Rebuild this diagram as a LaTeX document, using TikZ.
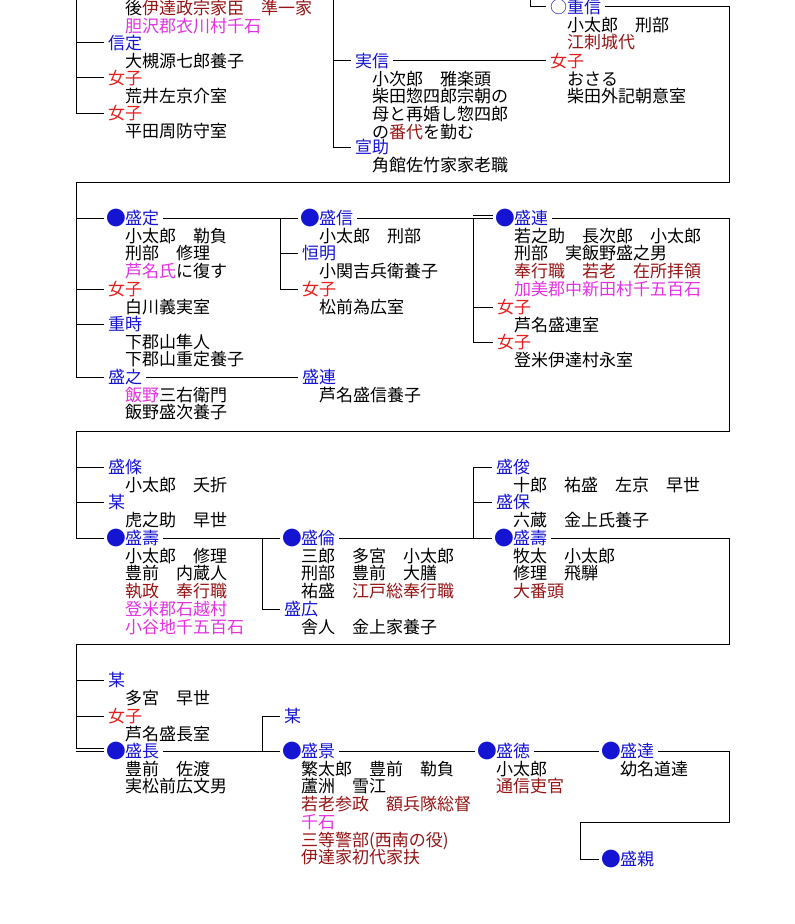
\documentclass[tikz,border=0pt]{standalone}
\usepackage{fontspec}
\setmainfont{Noto Sans CJK JP}
\definecolor{meiblue}{RGB}{20,20,210}
\definecolor{jored}{RGB}{230,30,30}
\definecolor{yakured}{RGB}{150,20,20}
\definecolor{chimag}{RGB}{225,50,225}
\newcommand{\yaku}[1]{\textcolor{yakured}{#1}}
\newcommand{\chigyo}[1]{\textcolor{chimag}{#1}}
\newcommand{\sosei}{\makebox[1em][c]{\raisebox{-0.7pt}{\fontsize{14.8pt}{14.8pt}\selectfont ●}}}

\begin{document}
\begin{tikzpicture}[x=0.75pt,y=-0.75pt,line width=0.75pt,
	every node/.style={font=\fontsize{12.75pt}{13.3pt}\selectfont,inner xsep=3pt,inner ysep=0pt,outer sep=0pt},
	namae/.style={anchor=west,text=meiblue},
	joshi/.style={anchor=west,text=jored},
	kiji/.style={anchor=base west,align=left,inner sep=0pt}]
\useasboundingbox (0,0) rectangle (794,924);

\node [kiji]   (ue-k)      at (125,32.2) {後\yaku{伊達政宗家臣}　\yaku{準一家}\\ \chigyo{胆沢郡衣川村千石}};
\node [namae]  (nobusada)  at (104,43)  {信定};
\node [kiji]   (nobusada-k) at ([shift={(21,17.7)}]nobusada.base west) {大槻源七郎養子};
\node [joshi]  (jo1)       at (104,78)  {女子};
\node [kiji]   (jo1-k)     at ([shift={(21,17.7)}]jo1.base west) {荒井左京介室};
\node [joshi]  (jo2)       at (104,113) {女子};
\node [kiji]   (jo2-k)     at ([shift={(21,17.7)}]jo2.base west) {平田周防守室};
\node [namae]  (sanenobu)  at (351,61)  {実信};
\node [kiji]   (sanenobu-k) at ([shift={(21,70.8)}]sanenobu.base west)
	{小次郎　雅楽頭\\ 柴田惣四郎宗朝の\\ 母と再婚し惣四郎\\ の\yaku{番代}を勤む};
\node [namae]  (nobusuke)  at (351,147) {宣助};
\node [kiji]   (nobusuke-k) at ([shift={(21,17.7)}]nobusuke.base west) {角館佐竹家家老職};
\node [namae]  (shigenobu) at (546,7)   {○重信};
\node [kiji]   (shigenobu-k) at ([shift={(21,35.4)}]shigenobu.base west) {小太郎　刑部\\ \yaku{江刺城代}};
\node [joshi]  (jo3)       at (546,61)  {女子};
\node [kiji]   (jo3-k)     at ([shift={(21,35.4)}]jo3.base west) {おさる\\ 柴田外記朝意室};

\node [namae]  (morisada)  at (104,218) {\sosei 盛定};
\node [kiji]   (morisada-k) at ([shift={(21,53.1)}]morisada.base west) {小太郎　勒負\\ 刑部　修理\\ \chigyo{芦名氏}に復す};
\node [joshi]  (jo4)       at (104,289) {女子};
\node [kiji]   (jo4-k)     at ([shift={(21,17.7)}]jo4.base west) {白川義実室};
\node [namae]  (shigetoki) at (104,324) {重時};
\node [kiji]   (shigetoki-k) at ([shift={(21,35.4)}]shigetoki.base west) {下郡山隼人\\ 下郡山重定養子};
\node [namae]  (moriyuki)  at (104,377) {盛之};
\node [kiji]   (moriyuki-k) at ([shift={(21,35.4)}]moriyuki.base west) {\chigyo{飯野}三右衛門\\ 飯野盛次養子};
\node [namae]  (morinobu)  at (298,218) {\sosei 盛信};
\node [kiji]   (morinobu-k) at ([shift={(21,17.7)}]morinobu.base west) {小太郎　刑部};
\node [namae]  (tsuneaki)  at (298,253) {恒明};
\node [kiji]   (tsuneaki-k) at ([shift={(21,17.7)}]tsuneaki.base west) {小関吉兵衛養子};
\node [joshi]  (jo5)       at (298,289) {女子};
\node [kiji]   (jo5-k)     at ([shift={(21,17.7)}]jo5.base west) {松前為広室};
\node [namae]  (moritsura0) at (298,377) {盛連};
\node [kiji]   (moritsura0-k) at ([shift={(21,17.7)}]moritsura0.base west) {芦名盛信養子};
\node [namae]  (moritsura) at (493,218) {\sosei 盛連};
\node [kiji]   (moritsura-k) at ([shift={(21,70.8)}]moritsura.base west)
	{若之助　長次郎　小太郎\\ 刑部　実飯野盛之男\\ \yaku{奉行職　若老　在所拝領}\\ \chigyo{加美郡中新田村千五百石}};
\node [joshi]  (jo6)       at (493,307) {女子};
\node [kiji]   (jo6-k)     at ([shift={(21,17.7)}]jo6.base west) {芦名盛連室};
\node [joshi]  (jo7)       at (493,342) {女子};
\node [kiji]   (jo7-k)     at ([shift={(21,17.7)}]jo7.base west) {登米伊達村永室};

\node [namae]  (morieda)   at (104,467) {盛條};
\node [kiji]   (morieda-k) at ([shift={(21,17.7)}]morieda.base west) {小太郎　夭折};
\node [namae]  (bou1)      at (104,502) {某};
\node [kiji]   (bou1-k)    at ([shift={(21,17.7)}]bou1.base west) {虎之助　早世};
\node [namae]  (morihisa)  at (104,538) {\sosei 盛壽};
\node [kiji]   (morihisa-k) at ([shift={(21,88.5)}]morihisa.base west)
	{小太郎　修理\\ 豊前　内蔵人\\ \yaku{執政　奉行職}\\ \chigyo{登米郡石越村}\\ \chigyo{小谷地千五百石}};
\node [namae]  (moritomo)  at (280,538) {\sosei 盛倫};
\node [kiji]   (moritomo-k) at ([shift={(21,53.1)}]moritomo.base west)
	{三郎　多宮　小太郎\\ 刑部　豊前　大膳\\ 祐盛　\yaku{江戸総奉行職}};
\node [namae]  (morihiro)  at (280,609) {盛広};
\node [kiji]   (morihiro-k) at ([shift={(21,17.7)}]morihiro.base west) {舎人　金上家養子};
\node [namae]  (moritoshi) at (492,467) {盛俊};
\node [kiji]   (moritoshi-k) at ([shift={(21,17.7)}]moritoshi.base west) {十郎　祐盛　左京　早世};
\node [namae]  (moriyasu)  at (492,502) {盛保};
\node [kiji]   (moriyasu-k) at ([shift={(21,17.7)}]moriyasu.base west) {六蔵　金上氏養子};
\node [namae]  (morihisa2) at (492,538) {\sosei 盛壽};
\node [kiji]   (morihisa2-k) at ([shift={(21,53.1)}]morihisa2.base west) {牧太　小太郎\\ 修理　飛騨\\ \yaku{大番頭}};

\node [namae]  (bou2)      at (104,680) {某};
\node [kiji]   (bou2-k)    at ([shift={(21,17.7)}]bou2.base west) {多宮　早世};
\node [joshi]  (jo8)       at (104,716) {女子};
\node [kiji]   (jo8-k)     at ([shift={(21,17.7)}]jo8.base west) {芦名盛長室};
\node [namae]  (morinaga)  at (104,751) {\sosei 盛長};
\node [kiji]   (morinaga-k) at ([shift={(21,35.4)}]morinaga.base west) {豊前　佐渡\\ 実松前広文男};
\node [namae]  (bou3)      at (280,716) {某};
\node [namae]  (morikage)  at (280,751) {\sosei 盛景};
\node [kiji]   (morikage-k) at ([shift={(21,106.2)}]morikage.base west)
	{繁太郎　豊前　勒負\\ 蘆洲　雪江\\ \yaku{若老参政　額兵隊総督}\\ \chigyo{千石}\\ \yaku{三等警部(西南の役)}\\ \yaku{伊達家初代家扶}};
\node [namae]  (morinori)  at (475,751) {\sosei 盛徳};
\node [kiji]   (morinori-k) at ([shift={(21,35.4)}]morinori.base west) {小太郎\\ \yaku{通信吏官}};
\node [namae]  (morisato)  at (599,751) {\sosei 盛達};
\node [kiji]   (morisato-k) at ([shift={(21,17.7)}]morisato.base west) {幼名道達};
\node [namae]  (morichika) at (599,859) {\sosei 盛親};

\coordinate (t1) at (76,-2);
\coordinate (t2) at (333,-2);
\coordinate (t3) at (530,-2);
\coordinate (r1) at (729,182);
\coordinate (l2) at (76,182);
\coordinate (j1) at (280,218);
\coordinate (j2) at (473,218);
\coordinate (r2) at (729,431);
\coordinate (l3) at (76,431);
\coordinate (j3) at (262,538);
\coordinate (j4) at (473,538);
\coordinate (r3) at (729,644);
\coordinate (l4) at (76,644);
\coordinate (j5) at (262,751);
\coordinate (r4) at (729,822);
\coordinate (l5) at (580,822);

\draw (t1) |- (nobusada);
\draw (t1) |- (jo1);
\draw (t1) |- (jo2);
\draw (t2) |- (sanenobu);
\draw (t2) |- (nobusuke);
\draw (sanenobu) -- (jo3);
\draw (t3) |- (shigenobu);
\draw (shigenobu) -| (r1) -- (l2);

\draw (l2) |- (morisada);
\draw (l2) |- (jo4);
\draw (l2) |- (shigetoki);
\draw (l2) |- (moriyuki);
\draw (morisada) -- (morinobu);
\draw (j1) |- (tsuneaki);
\draw (j1) |- (jo5);
\draw (moriyuki) -- (moritsura0);
\draw (morinobu) -- (moritsura);
\draw ([yshift=2.25pt]j2) -- ([yshift=2.25pt]moritsura.west);
\draw (j2) |- (jo6);
\draw (j2) |- (jo7);
\draw (moritsura) -| (r2) -- (l3);

\draw (l3) |- (morieda);
\draw (l3) |- (bou1);
\draw (l3) |- (morihisa);
\draw (morihisa) -- (moritomo);
\draw (j3) |- (morihiro);
\draw (moritomo) -- (morihisa2);
\draw (j4) |- (moritoshi);
\draw (j4) |- (moriyasu);
\draw (morihisa2) -| (r3) -- (l4);

\draw (l4) |- (bou2);
\draw (l4) |- (jo8);
\draw (l4) |- ([yshift=2.25pt]morinaga.west);
\draw (l4 |- morinaga.west) -- (morinaga);
\draw (morinaga) -- (morikage);
\draw (j5) |- (bou3);
\draw (morikage) -- (morinori);
\draw (morinori) -- (morisato);
\draw (morisato) -| (r4) -- (l5) |- (morichika);
\end{tikzpicture}
\end{document}
